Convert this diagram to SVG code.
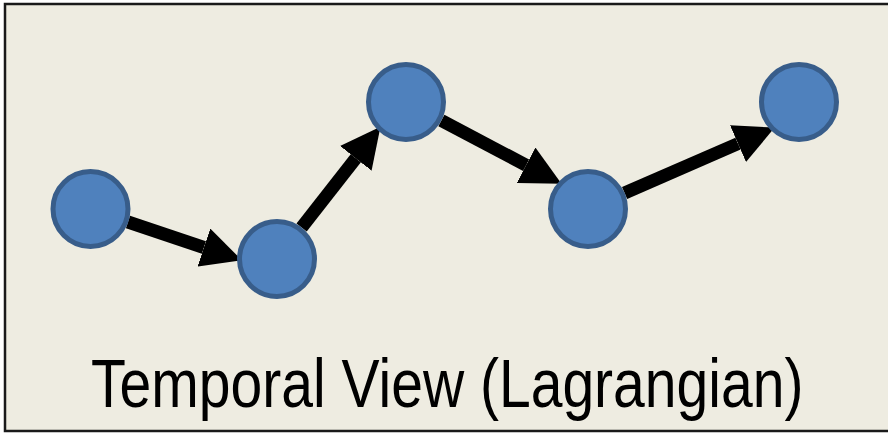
<svg xmlns="http://www.w3.org/2000/svg" width="888" height="433" viewBox="0 0 888 433">
  <defs>
    <style>
      .node { fill: #4F81BD; stroke: #385D8A; stroke-width: 5; }
      .conn { stroke: #000; stroke-width: 13; fill: none; marker-end: url(#head); }
      .title { font-family: "Liberation Sans", Arial, sans-serif; font-size: 69px; fill: #000; }
    </style>
    <marker id="head" markerUnits="userSpaceOnUse" markerWidth="40" markerHeight="40" viewBox="0 -18 36 36" refX="0" refY="0" orient="auto">
      <path d="M0,-18 L36,0 L0,18 Z" fill="#000"/>
    </marker>
  </defs>
  <rect x="0" y="0" width="888" height="433" fill="#FFFFFF"/>
  <rect x="5" y="4" width="883" height="427" fill="#EEECE1"/>
  <path d="M888,4 L5,4 L5,431 L888,431" fill="none" stroke="#1a1a1a" stroke-width="2.5"/>
  <g id="connectors">
    <line class="conn" x1="128" y1="222" x2="203.9" y2="247.5"/>
    <line class="conn" x1="301.6" y1="227.5" x2="355.8" y2="158.3"/>
    <line class="conn" x1="441.4" y1="120.6" x2="526.1" y2="165.2"/>
    <line class="conn" x1="624.6" y1="193" x2="738" y2="143.6"/>
  </g>
  <g id="node1"><circle class="node" cx="90.5" cy="209" r="37.5"/></g>
  <g id="node2"><circle class="node" cx="277" cy="259" r="37.5"/></g>
  <g id="node3"><circle class="node" cx="406" cy="102" r="37.5"/></g>
  <g id="node4"><circle class="node" cx="588" cy="209" r="37.5"/></g>
  <g id="node5"><circle class="node" cx="799" cy="102" r="37.5"/></g>
  <g id="label">
    <text class="title" transform="translate(91,407) scale(0.827,1)" x="0" y="0">Temporal View (Lagrangian)</text>
  </g>
</svg>
